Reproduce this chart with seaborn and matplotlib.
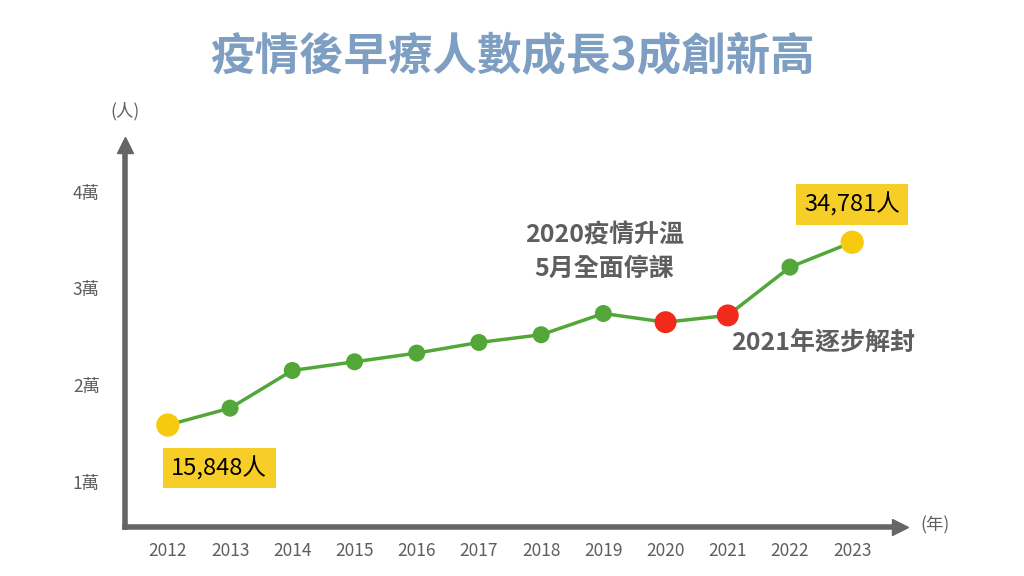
import numpy as np
import pandas as pd
import matplotlib
matplotlib.use('Agg')
import matplotlib.pyplot as plt
import seaborn as sns

# data
years = [2012, 2013, 2014, 2015, 2016, 2017, 2018, 2019, 2020, 2021, 2022, 2023]
people = [15848, 17600, 21500, 22400, 23300, 24400, 25200, 27400, 26500, 27200, 32200, 34781]
kind = ['end', 'normal', 'normal', 'normal', 'normal', 'normal', 'normal', 'normal',
        'covid', 'covid', 'normal', 'end']
ytick_vals = [10000, 20000, 30000, 40000]
ytick_labels = ['1萬', '2萬', '3萬', '4萬']

df = pd.DataFrame({'year': years, 'people': people, 'kind': kind})

sns.set_theme(style='white')
plt.rcParams['font.family'] = ['Noto Sans CJK TC', 'DejaVu Sans']

axis_grey = '#666666'
text_grey = '#5e5e5e'
green = '#52a738'
yellow = '#f7c90f'
red = '#f22a1c'

fig = plt.figure(figsize=(10.24, 5.76), dpi=100)
ax = fig.add_axes([0.122, 0.085, 0.757, 0.663])

sns.lineplot(data=df, x='year', y='people', color=green, linewidth=2.5, ax=ax, zorder=2)
sns.scatterplot(data=df, x='year', y='people', hue='kind', size='kind',
                palette={'normal': green, 'covid': red, 'end': yellow},
                sizes={'normal': 150, 'covid': 250, 'end': 280},
                edgecolor='none', legend=False, ax=ax, zorder=3)

ax.set_xlim(2011.31, 2023.77)
ax.set_ylim(5290, 44830)
ax.set_xticks(years)
ax.set_xticklabels([str(y) for y in years])
ax.set_yticks(ytick_vals)
ax.set_yticklabels(ytick_labels)
ax.tick_params(axis='both', length=0, labelsize=12.5, labelcolor=text_grey)
ax.tick_params(axis='x', pad=11)
ax.tick_params(axis='y', pad=18)
ax.set_xlabel('')
ax.set_ylabel('')

for s in ['top', 'right']:
    ax.spines[s].set_visible(False)
for s in ['left', 'bottom']:
    ax.spines[s].set_color(axis_grey)
    ax.spines[s].set_linewidth(4)

# arrowheads
ax.plot([0], [1], marker='^', markersize=11, color=axis_grey, transform=ax.transAxes, clip_on=False)
ax.plot([1], [0], marker='>', markersize=11, color=axis_grey, transform=ax.transAxes, clip_on=False)

# unit labels
ax.text(0.0, 1.09, '(人)', transform=ax.transAxes, ha='center', va='center',
        fontsize=12.5, color=text_grey)
ax.text(1.045, 0.005, '(年)', transform=ax.transAxes, ha='center', va='center',
        fontsize=12.5, color=text_grey)

# highlight labels
box = dict(boxstyle='square,pad=0.35', facecolor=yellow, edgecolor='none', alpha=0.9)
ax.annotate('15,848人', xy=(years[0], people[0]), xytext=(37, -31), textcoords='offset points',
            ha='center', va='center', fontsize=17, color='black', bbox=box)
ax.annotate('34,781人', xy=(years[-1], people[-1]), xytext=(0, 27), textcoords='offset points',
            ha='center', va='center', fontsize=17, color='black', bbox=box)

# event notes
ax.text(2019.02, 33800, '2020疫情升溫\n5月全面停課', ha='center', va='center',
        fontsize=18, fontweight='bold', color=text_grey, linespacing=1.5)
ax.text(2021.05, 24300, '2021年逐步解封', ha='left', va='center',
        fontsize=18, fontweight='bold', color=text_grey)

fig.text(0.5, 0.9, '疫情後早療人數成長3成創新高', ha='center', va='center',
         fontsize=32, fontweight='bold', color='#7f9fc2')

fig.savefig('out.png', dpi=100, facecolor='white')
